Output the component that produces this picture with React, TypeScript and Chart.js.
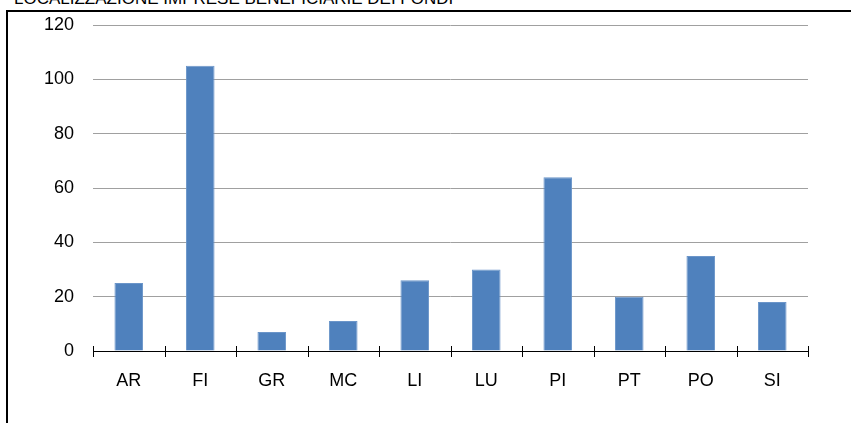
import React, { useEffect, useRef } from "react";
import { Chart, registerables } from "chart.js";

Chart.register(...registerables);

const title = "LOCALIZZAZIONE IMPRESE BENEFICIARIE DEI FONDI";
const categories = ["AR", "FI", "GR", "MC", "LI", "LU", "PI", "PT", "PO", "SI"];
const values = [25, 105, 7, 11, 26, 30, 64, 20, 35, 18];
const yMax = 120;
const yStep = 20;

const crossTicks = {
  id: "crossTicks",
  afterDraw(chart: any) {
    const x = chart.scales.x;
    const y = chart.scales.y;
    const ctx = chart.ctx;
    const base = y.getPixelForValue(0);
    ctx.save();
    ctx.strokeStyle = "#000";
    ctx.lineWidth = 1;
    ctx.beginPath();
    for (let i = 0; i <= categories.length; i++) {
      const px = Math.round(x.getPixelForValue(i - 0.5)) + 0.5;
      ctx.moveTo(px, base - 5);
      ctx.lineTo(px, base + 6);
    }
    ctx.stroke();
    ctx.restore();
  },
};

export default function App() {
  const ref = useRef<HTMLCanvasElement>(null);
  useEffect(() => {
    if (!ref.current) return;
    const font = { family: "'Liberation Sans', Arial, sans-serif", size: 18 };
    const chart = new Chart(ref.current, {
      type: "bar",
      data: {
        labels: categories,
        datasets: [
          {
            data: values,
            backgroundColor: "#4f81bd",
            borderColor: "#6b95c9",
            borderWidth: 1,
            barPercentage: 0.4,
            categoryPercentage: 1,
          },
        ],
      },
      options: {
        animation: false,
        responsive: false,
        maintainAspectRatio: false,
        layout: { padding: { left: 0, right: 43, top: 25, bottom: 0 } },
        plugins: { legend: { display: false }, tooltip: { enabled: false }, title: { display: false } },
        scales: {
          x: {
            grid: { display: false, offset: true, tickLength: 8 },
            border: { display: true, color: "#000", width: 1 },
            ticks: { color: "#000", font, padding: 11 },
            afterFit: (s: any) => {
              s.height = 72;
            },
          },
          y: {
            min: 0,
            max: yMax,
            ticks: { stepSize: yStep, color: "#000", font, padding: 19 },
            grid: { color: "#a0a0a0", lineWidth: 1, drawTicks: false },
            border: { display: false },
            afterFit: (s: any) => {
              s.width = 93;
              s.paddingTop = 0;
              s.paddingBottom = 0;
            },
          },
        },
      },
      plugins: [crossTicks],
    });
    return () => chart.destroy();
  }, []);

  return (
    <div style={{ position: "fixed", left: 0, top: 0, width: 851, height: 423, overflow: "hidden", background: "#fff" }}>
      <div
        style={{
          position: "absolute",
          left: 14,
          top: -10,
          fontFamily: "'Liberation Sans', Arial, sans-serif",
          fontSize: 17,
          lineHeight: "17px",
          color: "#000",
          whiteSpace: "nowrap",
        }}
      >
        {title}
      </div>
      <div
        style={{
          position: "absolute",
          left: 6,
          top: 10,
          width: 1000,
          height: 1000,
          borderLeft: "2px solid #000",
          borderTop: "2px solid #000",
        }}
      />
      <canvas ref={ref} width={851} height={423} style={{ position: "absolute", left: 0, top: 0, width: 851, height: 423 }} />
    </div>
  );
}
